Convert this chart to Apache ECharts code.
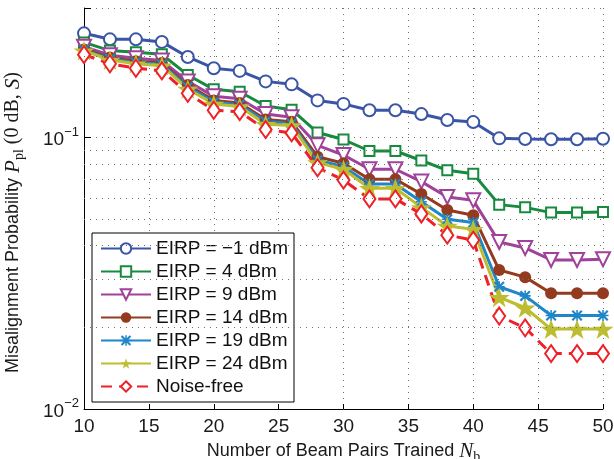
<!DOCTYPE html>
<html>
<head>
<meta charset="utf-8">
<script src="https://cdn.jsdelivr.net/npm/echarts@6/dist/echarts.min.js"></script>
<style>
  html, body { margin: 0; padding: 0; background: #fff; }
  #chart { width: 614px; height: 459px; }
</style>
</head>
<body>
<div id="chart"></div>
<script>
// Number of beam pairs trained (x axis)
const beamPairs = [10, 12, 14, 16, 18, 20, 22, 24, 26, 28, 30, 32, 34, 36, 38, 40, 42, 44, 46, 48, 50];

// Misalignment probability for each EIRP setting
const eirpMinus1 = [0.242, 0.230, 0.230, 0.225, 0.198, 0.180, 0.176, 0.161, 0.157, 0.137, 0.133, 0.126, 0.126, 0.122, 0.116, 0.114, 0.0993, 0.0987, 0.0985, 0.0985, 0.0990];
const eirp4 = [0.224, 0.209, 0.206, 0.2025, 0.170, 0.1505, 0.1475, 0.1306, 0.1266, 0.1043, 0.0983, 0.0892, 0.0892, 0.0823, 0.0757, 0.0735, 0.0566, 0.0553, 0.0529, 0.0529, 0.0532];
const eirp9 = [0.216, 0.201, 0.196, 0.192, 0.161, 0.142, 0.139, 0.122, 0.1187, 0.0936, 0.0862, 0.0764, 0.0764, 0.0688, 0.0604, 0.0587, 0.0412, 0.0392, 0.0354, 0.0354, 0.0356];
const eirp14 = [0.211, 0.197, 0.191, 0.188, 0.156, 0.137, 0.134, 0.1165, 0.1144, 0.0850, 0.0804, 0.0702, 0.0702, 0.0619, 0.0541, 0.0517, 0.0325, 0.0306, 0.0267, 0.0267, 0.0267];
const eirp19 = [0.210, 0.1946, 0.189, 0.186, 0.1535, 0.135, 0.132, 0.1145, 0.1126, 0.0826, 0.0781, 0.0674, 0.0674, 0.0580, 0.0500, 0.0486, 0.0282, 0.0261, 0.0221, 0.0221, 0.0221];
const eirp24 = [0.209, 0.193, 0.187, 0.184, 0.151, 0.133, 0.130, 0.112, 0.1107, 0.0809, 0.0764, 0.0650, 0.0650, 0.0553, 0.0472, 0.0459, 0.0258, 0.0236, 0.0197, 0.0197, 0.0197];
const noiseFree = [0.202, 0.187, 0.180, 0.176, 0.1455, 0.126, 0.1245, 0.107, 0.104, 0.0774, 0.0697, 0.0594, 0.0594, 0.0523, 0.0437, 0.0419, 0.0220, 0.0199, 0.0160, 0.0160, 0.0160];

const seriesNames = ['EIRP = \u22121 dBm', 'EIRP = 4 dBm', 'EIRP = 9 dBm', 'EIRP = 14 dBm', 'EIRP = 19 dBm', 'EIRP = 24 dBm', 'Noise-free'];

// Axis ticks
const xTicks = { min: 10, max: 50, step: 5 };
const yDecades = [0.01, 0.1];
const yExponents = ['\u22122', '\u22121'];
const yMax = 0.3;
const yMinorGrid = [0.02, 0.03, 0.04, 0.05, 0.06, 0.07, 0.08, 0.09, 0.2];

const SANS = 'Liberation Sans, Arial, Helvetica, sans-serif';
const SERIF = 'Liberation Serif, DejaVu Serif, serif';
const INK = '#1a1a1a';
const gridDots = { color: '#6e6e6e', width: 1, type: [1, 5] };

const asteriskPath = 'path://M1.4,0 L5,3.6 L8.6,0 L10,1.4 L6.4,5 L10,8.6 L8.6,10 L5,6.4 L1.4,10 L0,8.6 L3.6,5 L0,1.4 Z M4.3,0 L5.7,0 L5.7,10 L4.3,10 Z M0,4.3 L10,4.3 L10,5.7 L0,5.7 Z';
const starPath = 'path://M50,0 L61.8,35.1 L98.1,35.1 L68.8,56.7 L79.4,90.5 L50,69.1 L20.6,90.5 L31.2,56.7 L1.9,35.1 L38.2,35.1 Z';

function pairs(values) {
  return beamPairs.map((x, i) => [x, values[i]]);
}

function curve(name, values, color, symbol, size, extra) {
  return Object.assign({
    name: name,
    type: 'line',
    data: pairs(values),
    symbol: symbol,
    symbolSize: size,
    showAllSymbol: true,
    lineStyle: { color: color, width: 3 },
    itemStyle: { color: color, borderColor: color, borderWidth: 3 },
    emphasis: { disabled: true },
    animation: false,
    z: 3
  }, extra || {});
}

const nameRich = {
  t: { fontFamily: SANS, fontSize: 18, color: INK, lineHeight: 26, verticalAlign: 'middle' },
  m: { fontFamily: SERIF, fontStyle: 'italic', fontSize: 21, color: INK, lineHeight: 26, verticalAlign: 'middle' },
  sub: { fontFamily: SERIF, fontSize: 14, color: INK, lineHeight: 26, verticalAlign: 'bottom' },
  r: { fontFamily: SERIF, fontSize: 20, color: INK, lineHeight: 26, verticalAlign: 'middle' }
};

const chart = echarts.init(document.getElementById('chart'), null, { renderer: 'canvas' });

const option = {
  backgroundColor: '#fff',
  animation: false,
  grid: { left: 84, right: 11, top: 8, bottom: 50, containLabel: false, outerBoundsMode: 'none' },
  xAxis: {
    type: 'value',
    min: xTicks.min,
    max: xTicks.max,
    interval: xTicks.step,
    axisLine: { show: true, lineStyle: { color: '#000', width: 1 } },
    axisTick: { show: true, inside: true, length: 5, lineStyle: { color: '#000' } },
    axisLabel: { fontFamily: SANS, fontSize: 19, color: INK, margin: 8 },
    splitLine: { show: true, lineStyle: gridDots },
    name: '{t|Number of Beam Pairs Trained }{m|N}{sub|b}',
    nameLocation: 'middle',
    nameGap: 22,
    nameTextStyle: { rich: nameRich }
  },
  yAxis: {
    type: 'log',
    logBase: 10,
    min: yDecades[0],
    max: yMax,
    axisLine: { show: true, lineStyle: { color: '#000', width: 1 } },
    axisTick: { show: true, inside: true, length: 7, lineStyle: { color: '#000' } },
    axisLabel: {
      margin: 5,
      formatter: function (v) {
        for (let i = 0; i < yDecades.length; i++) {
          if (Math.abs(Math.log10(v) - Math.log10(yDecades[i])) < 1e-6) {
            return '{b|10}{s|' + yExponents[i] + '}';
          }
        }
        return '';
      },
      rich: {
        b: { fontFamily: SANS, fontSize: 19, color: INK, lineHeight: 24, verticalAlign: 'bottom' },
        s: { fontFamily: SANS, fontSize: 13, color: INK, lineHeight: 24, verticalAlign: 'top' }
      }
    },
    splitLine: { show: true, lineStyle: gridDots },
    name: '{t|Misalignment Probability }{m|P}{sub|pl}{r| (0 dB, }{m|S}{r|)}',
    nameLocation: 'middle',
    nameGap: 58,
    nameRotate: 90,
    nameTextStyle: { padding: [0, 28, 0, 0], rich: nameRich }
  },
  legend: {
    orient: 'vertical',
    left: 92,
    top: 233,
    data: seriesNames,
    itemWidth: 50,
    itemHeight: 13,
    itemGap: 4,
    padding: [6, 6, 6, 8],
    backgroundColor: '#fff',
    borderColor: '#000',
    borderWidth: 1,
    borderRadius: 0,
    selectedMode: false,
    textStyle: { fontFamily: SANS, fontSize: 19, color: '#111', padding: [0, 0, 0, 0] }
  },
  series: [
    {
      // dotted minor grid of the logarithmic axis
      name: 'minor-grid',
      type: 'line',
      data: [],
      silent: true,
      z: 1,
      markLine: {
        silent: true,
        symbol: 'none',
        label: { show: false },
        lineStyle: gridDots,
        animation: false,
        data: yMinorGrid.map(v => ({ yAxis: v }))
      }
    },
    curve(seriesNames[0], eirpMinus1, '#3a55a6', 'emptyCircle', 12),
    curve(seriesNames[1], eirp4, '#188a3f', 'emptyRect', 10),
    curve(seriesNames[2], eirp9, '#a0429b', 'emptyTriangle', 14, { symbolRotate: 180 }),
    curve(seriesNames[3], eirp14, '#943a1e', 'circle', 12, { itemStyle: { color: '#943a1e', borderWidth: 0 } }),
    curve(seriesNames[4], eirp19, '#1f86c9', asteriskPath, 11, { itemStyle: { color: '#1f86c9', borderWidth: 0 } }),
    curve(seriesNames[5], eirp24, '#bdbd31', starPath, 21, { symbolKeepAspect: true, itemStyle: { color: '#bdbd31', borderWidth: 0 } }),
    curve(seriesNames[6], noiseFree, '#ee2028', 'emptyDiamond', [12, 17], { lineStyle: { color: '#ee2028', width: 3, type: [11, 7] } })
  ]
};

chart.setOption(option);
</script>
</body>
</html>
